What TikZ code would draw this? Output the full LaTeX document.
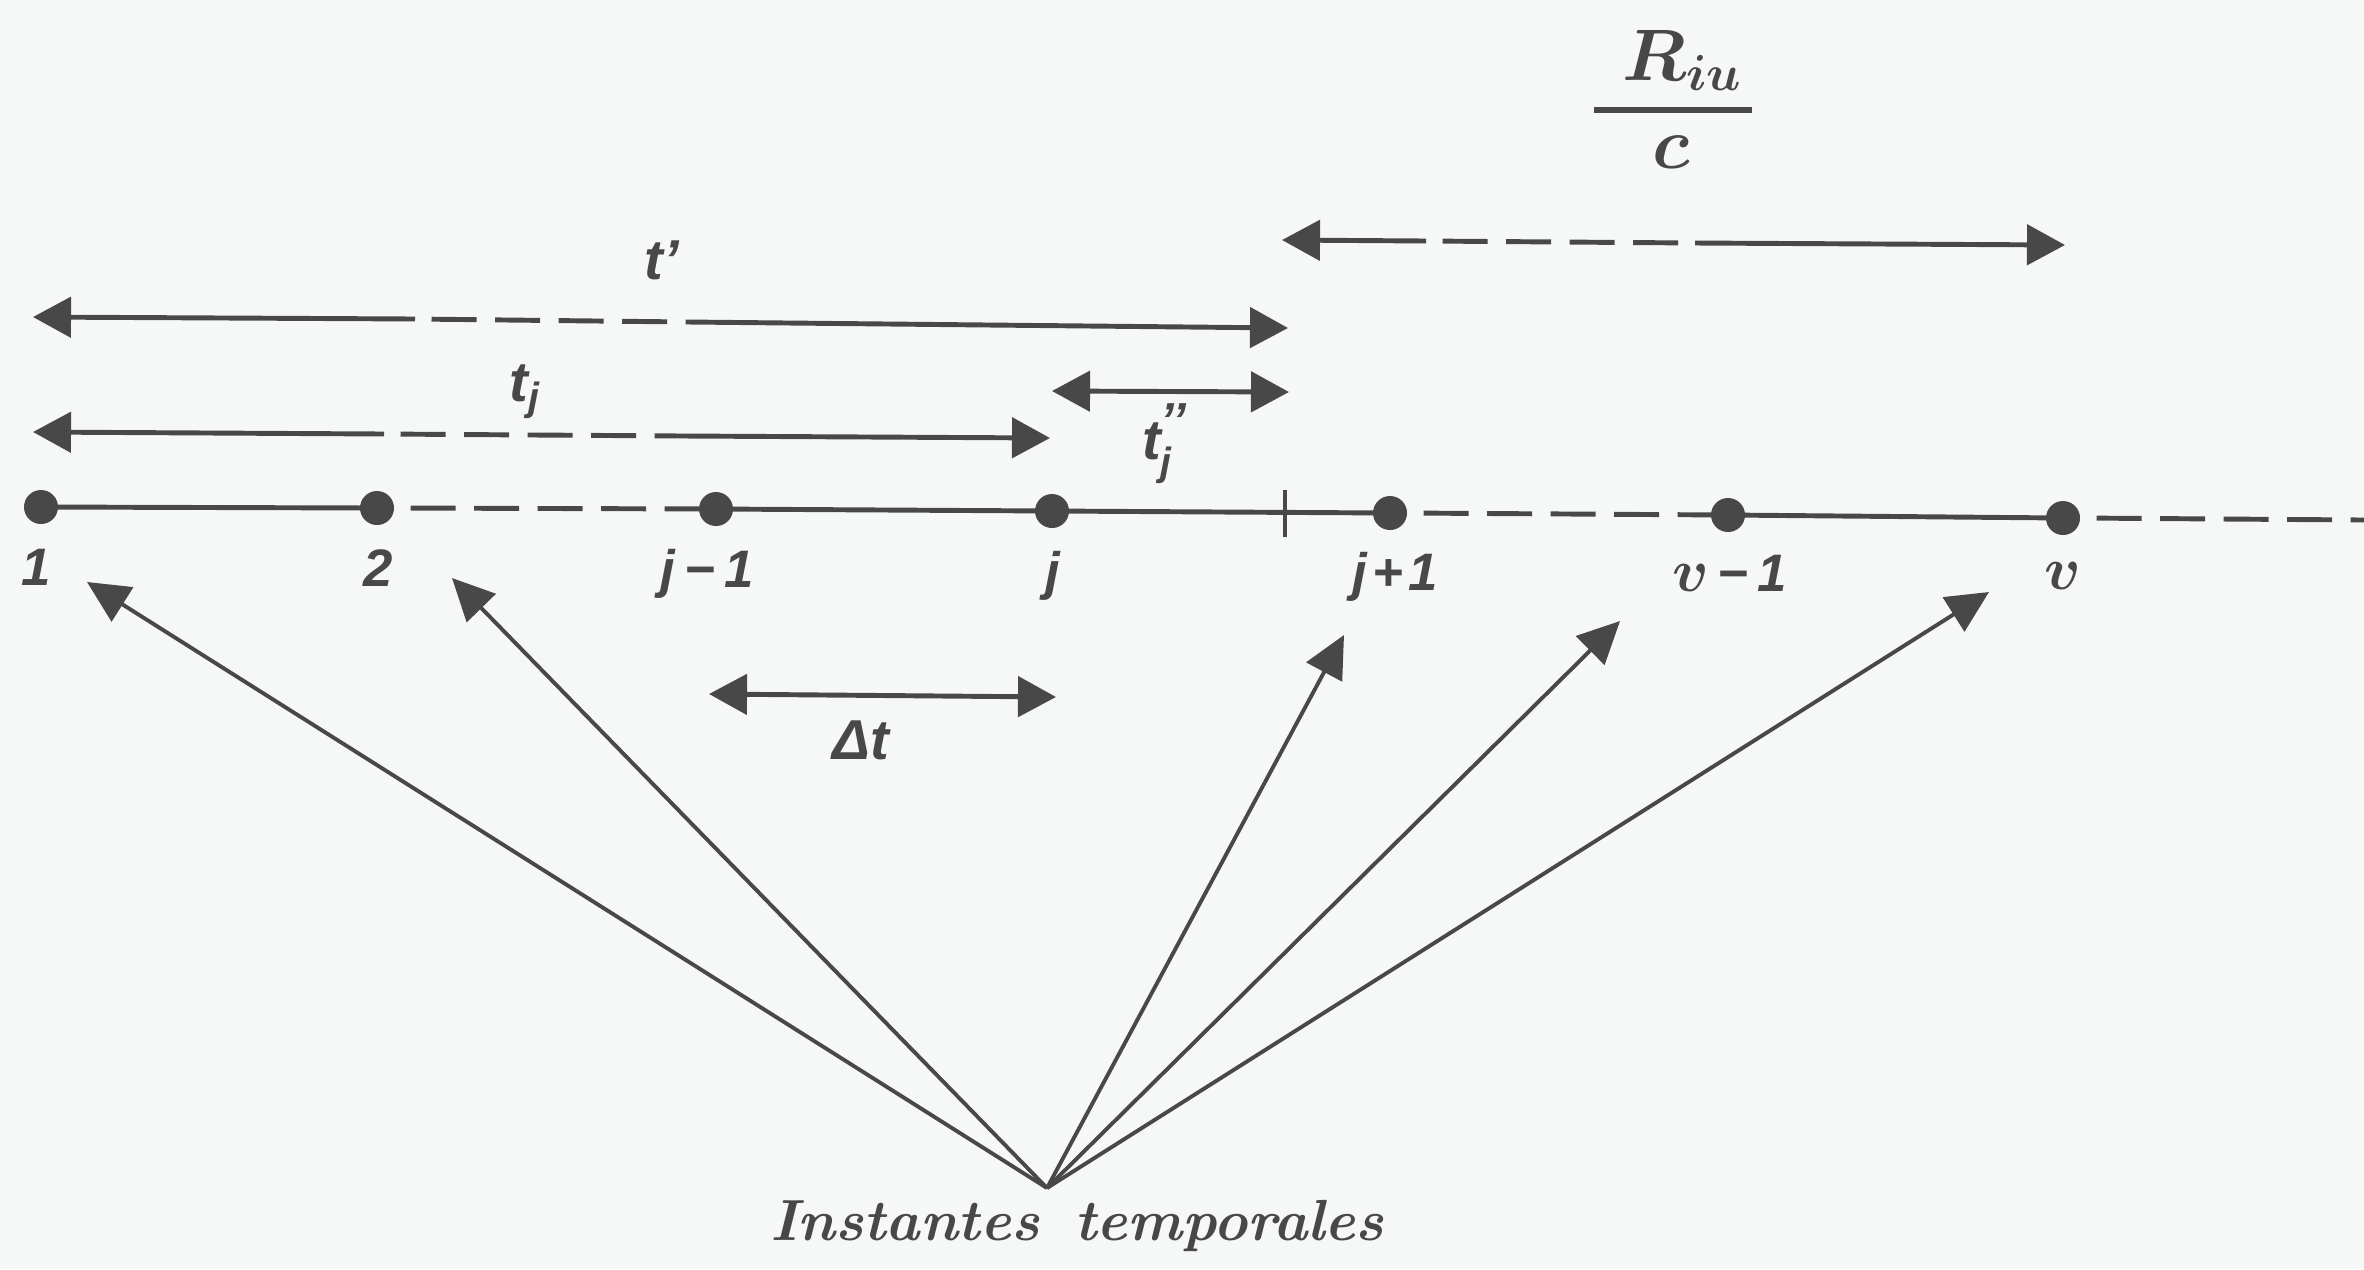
\documentclass[tikz,border=0pt]{standalone}
\usepackage{amsmath}
\usepackage{bm}
\usepackage{fontspec}
\usetikzlibrary{arrows.meta}
\newfontfamily\lblfont{Liberation Sans}
\definecolor{ink}{RGB}{72,72,72}
\definecolor{paper}{RGB}{246,247,247}
\newcommand{\vlet}{{\fontsize{19}{20}\selectfont$\bm{v}$}}
\tikzset{
  mainline/.style={draw=ink, line width=1.4pt},
  dimline/.style={draw=ink, line width=1.4pt},
  fanline/.style={draw=ink, line width=1.1pt, -{Triangle[length=0.42cm,width=0.40cm]}},
  headL/.style={{Triangle[length=0.38cm,width=0.40cm]}-},
  headR/.style={-{Triangle[length=0.38cm,width=0.40cm]}},
  headLR/.style={{Triangle[length=0.38cm,width=0.40cm]}-{Triangle[length=0.38cm,width=0.40cm]}},
  dashseg/.style={dash pattern=on 0.45cm off 0.185cm, dash phase=0.47cm},
  dotn/.style={circle, fill=ink, minimum size=0.34cm, inner sep=0pt},
  lbl/.style={text=ink, inner sep=0pt, font=\lblfont\bfseries\itshape\fontsize{15}{17}\selectfont},
  tlbl/.style={text=ink, inner sep=0pt, font=\lblfont\bfseries\itshape\fontsize{16}{18}\selectfont},
  biglbl/.style={text=ink, inner sep=0pt, font=\bfseries\itshape\fontsize{16.5}{19}\selectfont},
  fraclbl/.style={text=ink, inner sep=0pt, font=\boldmath\fontsize{20.74}{25}\selectfont},
  fracbar/.style={draw=ink, line width=1.5pt}
}
\begin{document}
\begin{tikzpicture}[x=0.01cm,y=-0.01cm]
\fill[paper] (0,0) rectangle (2364,1269);
\useasboundingbox (0,0) rectangle (2364,1269);

% positions on the main time axis
\coordinate (p1) at (41,507);
\coordinate (p2) at (377,508);
\coordinate (p2e) at (394,508);
\coordinate (pj1) at (716,509);
\coordinate (pj) at (1052,511);
\coordinate (tk) at (1285,512);
\coordinate (tkT) at (1285,490);
\coordinate (tkB) at (1285,537);
\coordinate (pjp1) at (1390,513);
\coordinate (pjp1e) at (1407,513);
\coordinate (pv1) at (1728,515);
\coordinate (pv) at (2063,518);
\coordinate (pve) at (2080,518);
\coordinate (pend) at (2364,520);

% main axis
\draw[mainline] (p1) -- (p2);
\draw[mainline, dashseg] (p2e) -- (pj1);
\draw[mainline] (pj1) -- (pj) -- (pjp1);
\draw[draw=ink, line width=1.1pt] (tkT) -- (tkB);
\draw[mainline, dashseg] (pjp1e) -- (pv1);
\draw[mainline] (pv1) -- (pv);
\draw[mainline, dashseg] (pve) -- (pend);

\node[dotn] (d1) at (p1) {};
\node[dotn] (d2) at (p2) {};
\node[dotn] (dj1) at (pj1) {};
\node[dotn] (dj) at (pj) {};
\node[dotn] (djp1) at (pjp1) {};
\node[dotn] (dv1) at (pv1) {};
\node[dotn] (dv) at (pv) {};

% axis labels
\node[lbl, anchor=base] (l1) at (36,585) {1};
\node[lbl, anchor=base] (l2) at (378,586) {2};
\node[lbl, anchor=base] (lj1) at (707,587) {j\hspace{0.18em}−\hspace{0.18em}1};
\node[lbl, anchor=base] (lj) at (1053,589) {j};
\node[lbl, anchor=base] (ljp1) at (1395,590) {j\hspace{0.1em}+\hspace{0.1em}1};
\node[lbl, anchor=base] (lv1) at (1730,591) {\vlet\hspace{0.15em}−\hspace{0.18em}1};
\node[lbl, anchor=base] (lv) at (2063,589) {\vlet};

% t' arrow
\coordinate (tpL) at (33,317);
\coordinate (tpa) at (415,319);
\coordinate (tpc) at (688,322);
\coordinate (tpR) at (1288,328);
\draw[dimline, headL] (tpL) -- (tpa);
\draw[dimline, dashseg] (tpa) -- (tpc);
\draw[dimline, headR] (tpc) -- (tpR);
\node[tlbl] (ltp) at (662,260) {t’};

% t_j arrow
\coordinate (tjL) at (33,432);
\coordinate (tja) at (384,434);
\coordinate (tjc) at (684,436);
\coordinate (tjR) at (1050,438);
\draw[dimline, headL] (tjL) -- (tja);
\draw[dimline, dashseg] (tja) -- (tjc);
\draw[dimline, headR] (tjc) -- (tjR);
\node[tlbl] (ltj) at (525,392) {t\textsubscript{j}};

% t''_j arrow
\coordinate (tsL) at (1052,391);
\coordinate (tsR) at (1289,392);
\draw[dimline, headLR] (tsL) -- (tsR);
\node[tlbl] (lts) at (1165,444) {t$^{\text{\fontsize{14}{14}\selectfont ’’}}_{\text{j}}$};

% R_iu / c arrow
\coordinate (rcL) at (1282,240);
\coordinate (rca) at (1426,241);
\coordinate (rcc) at (1695,243);
\coordinate (rcR) at (2065,245);
\draw[dimline, headL] (rcL) -- (rca);
\draw[dimline, dashseg] (rca) -- (rcc);
\draw[dimline, headR] (rcc) -- (rcR);
\node[fraclbl, anchor=base] (lrnum) at (1683,80) {$R_{iu}$};
\coordinate (barL) at (1594,110);
\coordinate (barR) at (1752,110);
\draw[fracbar] (barL) -- (barR);
\node[fraclbl, anchor=base] (lrden) at (1671,168) {$c$};

% Delta t arrow
\coordinate (dtL) at (709,694);
\coordinate (dtR) at (1056,697);
\draw[dimline, headLR] (dtL) -- (dtR);
\node[tlbl] (ldt) at (861,740) {Δt};

% fan of arrows
\node[biglbl] (inst) at (1077,1226) {Instantes\hspace{0.6em}temporales};
\coordinate (apex) at (1047,1188);
\coordinate (f1) at (87,582);
\coordinate (f2) at (452,578);
\coordinate (f3) at (1344,635);
\coordinate (f4) at (1620,621);
\coordinate (f5) at (1989,592);
\foreach \t in {f1,f2,f3,f4,f5} \draw[fanline] (apex) -- (\t);
\end{tikzpicture}
\end{document}
